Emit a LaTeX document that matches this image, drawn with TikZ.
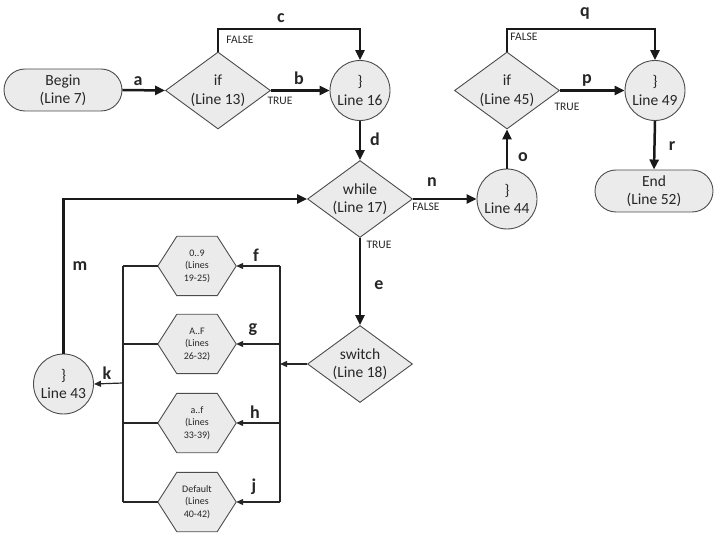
\documentclass[tikz,border=0pt]{standalone}
\usepackage{fontspec}
\setmainfont{Carlito}
\usetikzlibrary{shapes.geometric,shapes.misc,arrows.meta,backgrounds}
\begin{document}
\begin{tikzpicture}[x=1pt,y=-1pt,
 every node/.style={font=\fontsize{15.5}{18.5}\selectfont, align=center, text=black!85},
 shp/.style={draw=black!70, line width=0.9pt, fill=black!8},
 term/.style={shp, rounded rectangle, minimum width=118pt, minimum height=42pt, inner sep=0pt},
 dec/.style={shp, diamond, minimum width=105pt, minimum height=77pt, inner sep=0pt, aspect=1.36},
 circ/.style={shp, circle, minimum size=60pt, inner sep=0pt},
 hexn/.style={minimum width=78pt, minimum height=59pt, inner sep=0pt, font=\fontsize{10}{12.5}\selectfont},
 main/.style={line width=2.5pt, black!90, -{Triangle[length=10pt,width=9pt]}},
 thin/.style={line width=1.2pt, black!85, -{Triangle[length=7pt,width=6pt]}},
 thinline/.style={line width=1.2pt, black!85},
 lab/.style={font=\bfseries\fontsize{18}{21}\selectfont, inner sep=0pt},
 tf/.style={font=\fontsize{11.5}{13}\selectfont, inner sep=0pt},
]
\useasboundingbox (0,0) rectangle (720,534);

% nodes
\node[term] (begin) at (63,90) {Begin\\(Line 7)};
\node[dec] (if1) at (218,90.5) {if\\(Line 13)};
\node[circ] (l16) at (360,90.5) {\}\\Line 16};
\node[dec] (wh) at (360,199) {while\\(Line 17)};
\node[dec] (sw) at (360,364) {switch\\(Line 18)};
\node[circ] (l44) at (507,199) {\}\\Line 44};
\node[dec] (if2) at (507,90.5) {if\\(Line 45)};
\node[circ] (l49) at (655,90.5) {\}\\Line 49};
\node[term] (endn) at (654,191) {End\\(Line 52)};
\node[circ] (l43) at (63.5,384) {\}\\Line 43};
\node[hexn] (h1) at (197,266) {0..9\\(Lines\\19-25)};
\node[hexn] (h2) at (197,344) {A..F\\(Lines\\26-32)};
\node[hexn] (h3) at (197,423) {a..f\\(Lines\\33-39)};
\node[hexn] (h4) at (197,502) {Default\\(Lines\\40-42)};

\begin{scope}[on background layer]
\foreach \h in {h1,h2,h3,h4}
  \draw[shp] (\h.west) -- ([xshift=19pt]\h.north west) -- ([xshift=-19pt]\h.north east)
    -- (\h.east) -- ([xshift=-19pt]\h.south east) -- ([xshift=19pt]\h.south west) -- cycle;
\end{scope}

% helper coordinates
\coordinate (topc) at (0,29);
\coordinate (rb) at (280,364);
\coordinate (lb) at (123,383);

% main connectors
\draw[main] (begin.east) -- (if1.west);
\draw[main] (if1.east) -- (l16.west);
\draw[main] (if1.north) -- (if1.north |- topc) -| (l16.north);
\draw[main] (l16.south) -- (wh.north);
\draw[main] (wh.east) -- (l44.west);
\draw[main] (l44.north) -- (if2.south);
\draw[main] (if2.east) -- (l49.west);
\draw[main] (if2.north) -- (if2.north |- topc) -| (l49.north);
\draw[main] (l49.south) -- (endn.north);
\draw[main] (wh.south) -- (sw.north);
\draw[main] (l43.north) |- (wh.west);

% switch connectors
\draw[thin] (sw.west) -- (rb);
\draw[thinline] (h1.east -| rb) -- (h4.east -| rb);
\draw[thin] (h1.east -| rb) -- (h1.east);
\draw[thin] (h2.east -| rb) -- (h2.east);
\draw[thin] (h3.east -| rb) -- (h3.east);
\draw[thin] (h4.east -| rb) -- (h4.east);
\draw[thinline] (h1.west -| lb) -- (h4.west -| lb);
\draw[thinline] (h1.west) -- (h1.west -| lb);
\draw[thinline] (h2.west) -- (h2.west -| lb);
\draw[thinline] (h3.west) -- (h3.west -| lb);
\draw[thinline] (h4.west) -- (h4.west -| lb);
\draw[thin] (lb) -- (l43.east);

% labels
\node[lab] (la) at (138,81) {a};
\node[lab] (lbb) at (299,78) {b};
\node[lab] (lc) at (281,18) {c};
\node[lab] (ld) at (375,139) {d};
\node[lab] (le) at (379,285) {e};
\node[lab] (lf) at (256,255) {f};
\node[lab] (lg) at (253,330) {g};
\node[lab] (lh) at (255,412) {h};
\node[lab] (lj) at (254,487) {j};
\node[lab] (lk) at (107,373) {k};
\node[lab] (lm) at (80,266) {m};
\node[lab] (ln) at (432,182) {n};
\node[lab] (lo) at (523,157) {o};
\node[lab] (lp) at (587,80) {p};
\node[lab] (lq) at (585,13) {q};
\node[lab] (lr) at (672,146) {r};

\node[tf] (f1) at (240,40) {FALSE};
\node[tf] (t1) at (280,101) {TRUE};
\node[tf] (f2) at (426,207) {FALSE};
\node[tf] (t2) at (379,245) {TRUE};
\node[tf] (t3) at (567,107) {TRUE};
\node[tf] (f4) at (524,37) {FALSE};
\end{tikzpicture}
\end{document}
